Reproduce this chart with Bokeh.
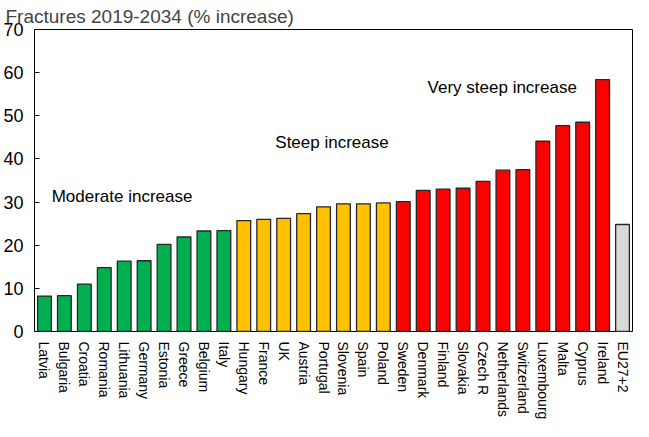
import math
from bokeh.plotting import figure
from bokeh.layouts import column
from bokeh.models import Range1d, FixedTicker, ColumnDataSource, Label
from bokeh.core.properties import value
from bokeh.embed import file_html
from bokeh.resources import INLINE

countries = ["Latvia", "Bulgaria", "Croatia", "Romania", "Lithuania", "Germany", "Estonia",
             "Greece", "Belgium", "Italy", "Hungary", "France", "UK", "Austria", "Portugal",
             "Slovenia", "Spain", "Poland", "Sweden", "Denmark", "Finland", "Slovakia",
             "Czech R", "Netherlands", "Switzerland", "Luxembourg", "Malta", "Cyprus",
             "Ireland", "EU27+2"]
values = [8.2, 8.3, 11.0, 14.8, 16.3, 16.4, 20.2, 21.9, 23.3, 23.4, 25.7, 26.0, 26.2, 27.3,
          28.9, 29.6, 29.6, 29.8, 30.1, 32.7, 33.0, 33.2, 34.8, 37.4, 37.5, 44.1, 47.7, 48.5,
          58.4, 24.8]
groups = ["Moderate"] * 10 + ["Steep"] * 8 + ["Very steep"] * 11 + ["Average"]
group_colors = {"Moderate": "#00B050", "Steep": "#FFC000", "Very steep": "#FF0000", "Average": "#D9D9D9"}
y_ticks = [0, 10, 20, 30, 40, 50, 60, 70]
title_text = "Fractures 2019-2034 (% increase)"

idx = list(range(len(countries)))
src = ColumnDataSource(dict(x=idx, top=values, color=[group_colors[g] for g in groups]))

LEFT = 30
RIGHT = 1
W = 633
H_TOTAL = 421
H_LAB = 80
H_MAIN = H_TOTAL - H_LAB

p = figure(width=W, height=H_MAIN, output_backend="svg", toolbar_location=None,
           x_range=Range1d(-0.5, len(countries) - 0.5), y_range=Range1d(0, 70),
           min_border_left=LEFT, min_border_right=RIGHT, min_border_top=25, min_border_bottom=10)

p.vbar(x="x", top="top", bottom=0, width=0.69, fill_color="color",
       line_color="#262626", line_width=1.3, source=src)

p.title.text = title_text
p.title.text_font = "Liberation Sans"
p.title.text_font_size = "19px"
p.title.text_font_style = "normal"
p.title.align = "left"
p.title.offset = -(LEFT - 1)
p.title.standoff = 6

p.xgrid.visible = False
p.ygrid.visible = False
p.outline_line_color = "black"
p.outline_line_width = 1
p.outline_line_alpha = 1

p.yaxis.ticker = FixedTicker(ticks=y_ticks)
p.yaxis.major_tick_in = 5
p.yaxis.major_tick_out = 0
p.yaxis.minor_tick_line_color = None
p.yaxis.major_label_text_font = "Liberation Sans"
p.yaxis.major_label_text_font_size = "18px"
p.yaxis.major_label_text_color = "black"
p.yaxis.major_label_standoff = 11
p.yaxis.axis_line_color = "black"
p.yaxis.major_tick_line_color = "black"
p.xaxis.visible = False

for txt, x, y in [("Moderate increase", 0.36, 31.2),
                  ("Steep increase", 11.58, 43.9),
                  ("Very steep increase", 19.22, 56.6)]:
    p.add_layout(Label(x=x, y=y, text=txt, text_font="Liberation Sans", text_font_size="17px",
                       text_baseline="middle", text_align="left", text_color="black"))

# category labels, in a strip below the chart that shares the x scale
q = figure(width=W, height=H_LAB, output_backend="svg", toolbar_location=None,
           x_range=p.x_range, y_range=Range1d(-H_LAB, 0),
           min_border_left=LEFT, min_border_right=RIGHT, min_border_top=0, min_border_bottom=0)
q.axis.visible = False
q.grid.visible = False
q.outline_line_color = None
q.text(x=idx, y=[0] * len(idx), text=countries, angle=-math.pi / 2,
       text_font=value("Liberation Sans"), text_font_size="14px",
       text_align="left", text_baseline="middle", text_color="black")

layout = column(p, q, spacing=0)
open("out.html", "w").write(file_html(layout, INLINE))
